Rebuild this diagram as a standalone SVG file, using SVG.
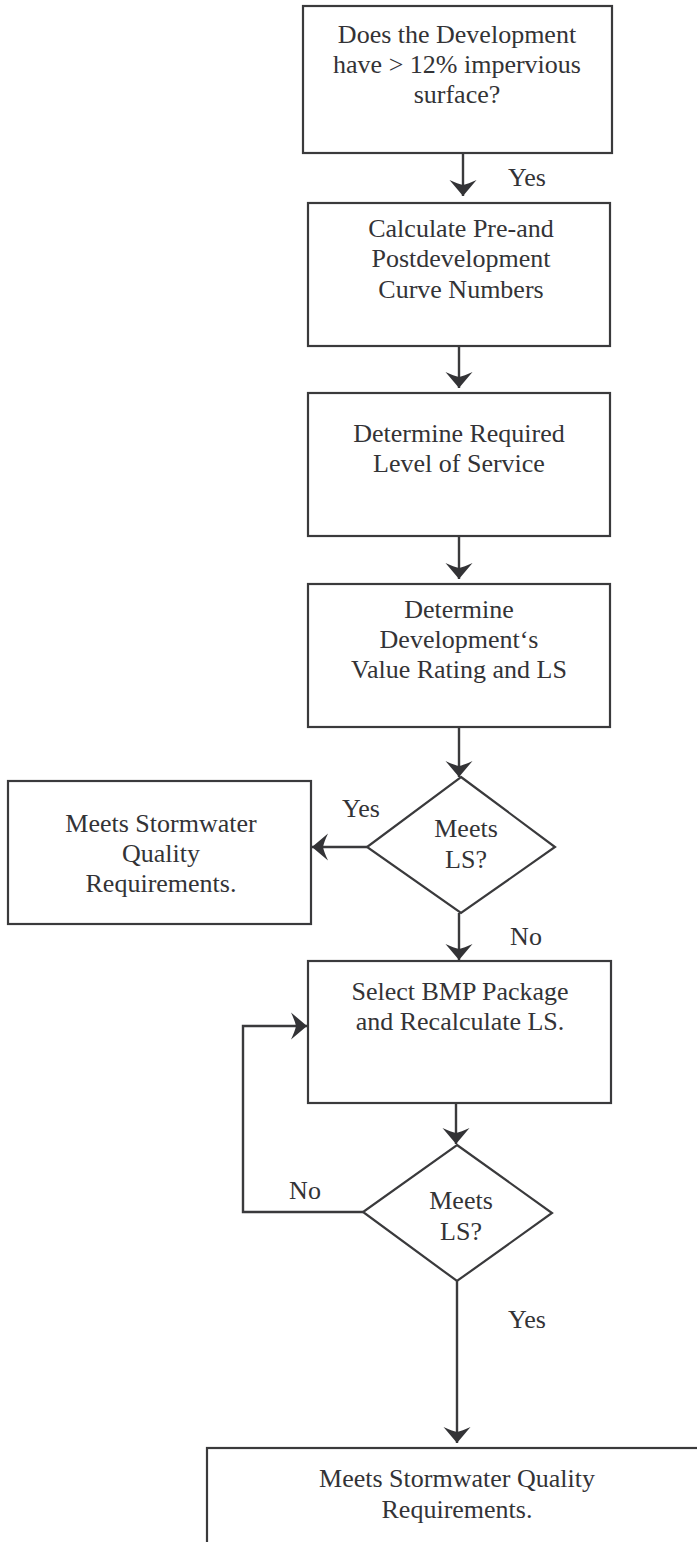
<svg xmlns="http://www.w3.org/2000/svg" width="697" height="1542" viewBox="0 0 697 1542">
<style>
.box{fill:#fff;stroke:#3a3a3c;stroke-width:2.2}
.t{font-family:"Liberation Serif","Times New Roman",serif;font-size:26px;fill:#333336;text-anchor:middle}
.c{fill:none;stroke:#3a3a3c;stroke-width:2.4}
</style>
<defs>
<marker id="ah" markerUnits="userSpaceOnUse" markerWidth="34" markerHeight="34" viewBox="-17 -17 34 34" refX="0" refY="0" orient="auto">
<path d="M0 0 L-16 -13.5 Q-12 -5 -11 0 Q-12 5 -16 13.5 Z" fill="#333336"/>
</marker>
</defs>
<rect width="697" height="1542" fill="#fff"/>
<g id="connectors">
<path class="c" d="M463 153 V196" marker-end="url(#ah)"/>
<path class="c" d="M459 346 V388" marker-end="url(#ah)"/>
<path class="c" d="M459 536 V579" marker-end="url(#ah)"/>
<path class="c" d="M459 727 V777" marker-end="url(#ah)"/>
<path class="c" d="M367 847 H312" marker-end="url(#ah)"/>
<path class="c" d="M459 913 V960" marker-end="url(#ah)"/>
<path class="c" d="M456 1103 V1144" marker-end="url(#ah)"/>
<path class="c" d="M363 1212 H243 V1026 H307" marker-end="url(#ah)"/>
<path class="c" d="M457 1281 V1443" marker-end="url(#ah)"/>
<text class="t" x="527" y="186">Yes</text>
<text class="t" x="361" y="817">Yes</text>
<text class="t" x="526" y="945">No</text>
<text class="t" x="305" y="1199">No</text>
<text class="t" x="527" y="1328">Yes</text>
</g>
<g id="n1">
<rect class="box" x="303" y="6" width="309" height="147"/>
<text class="t" x="457" y="43">Does the Development</text>
<text class="t" x="457" y="73">have &gt; 12% impervious</text>
<text class="t" x="457" y="103">surface?</text>
</g>
<g id="n2">
<rect class="box" x="308" y="203" width="302" height="143"/>
<text class="t" x="461" y="237">Calculate Pre-and</text>
<text class="t" x="461" y="267">Postdevelopment</text>
<text class="t" x="461" y="298">Curve Numbers</text>
</g>
<g id="n3">
<rect class="box" x="308" y="393" width="302" height="143"/>
<text class="t" x="459" y="442">Determine Required</text>
<text class="t" x="459" y="472">Level of Service</text>
</g>
<g id="n4">
<rect class="box" x="308" y="584" width="302" height="143"/>
<text class="t" x="459" y="618">Determine</text>
<text class="t" x="459" y="648">Development‘s</text>
<text class="t" x="459" y="678">Value Rating and LS</text>
</g>
<g id="d1">
<polygon class="box" points="461,777 555,847 461,913 367,847"/>
<text class="t" x="466" y="837">Meets</text>
<text class="t" x="466" y="868">LS?</text>
</g>
<g id="n5">
<rect class="box" x="8" y="781" width="303" height="143"/>
<text class="t" x="161" y="832">Meets Stormwater</text>
<text class="t" x="161" y="862">Quality</text>
<text class="t" x="161" y="892">Requirements.</text>
</g>
<g id="n6">
<rect class="box" x="308" y="961" width="303" height="142"/>
<text class="t" x="460" y="1000">Select BMP Package</text>
<text class="t" x="460" y="1030">and Recalculate LS.</text>
</g>
<g id="d2">
<polygon class="box" points="457,1145 552,1213 457,1281 363,1212"/>
<text class="t" x="461" y="1209">Meets</text>
<text class="t" x="461" y="1240">LS?</text>
</g>
<g id="n7">
<rect class="box" x="207" y="1448" width="500" height="120"/>
<text class="t" x="457" y="1487">Meets Stormwater Quality</text>
<text class="t" x="457" y="1518">Requirements.</text>
</g>
</svg>
